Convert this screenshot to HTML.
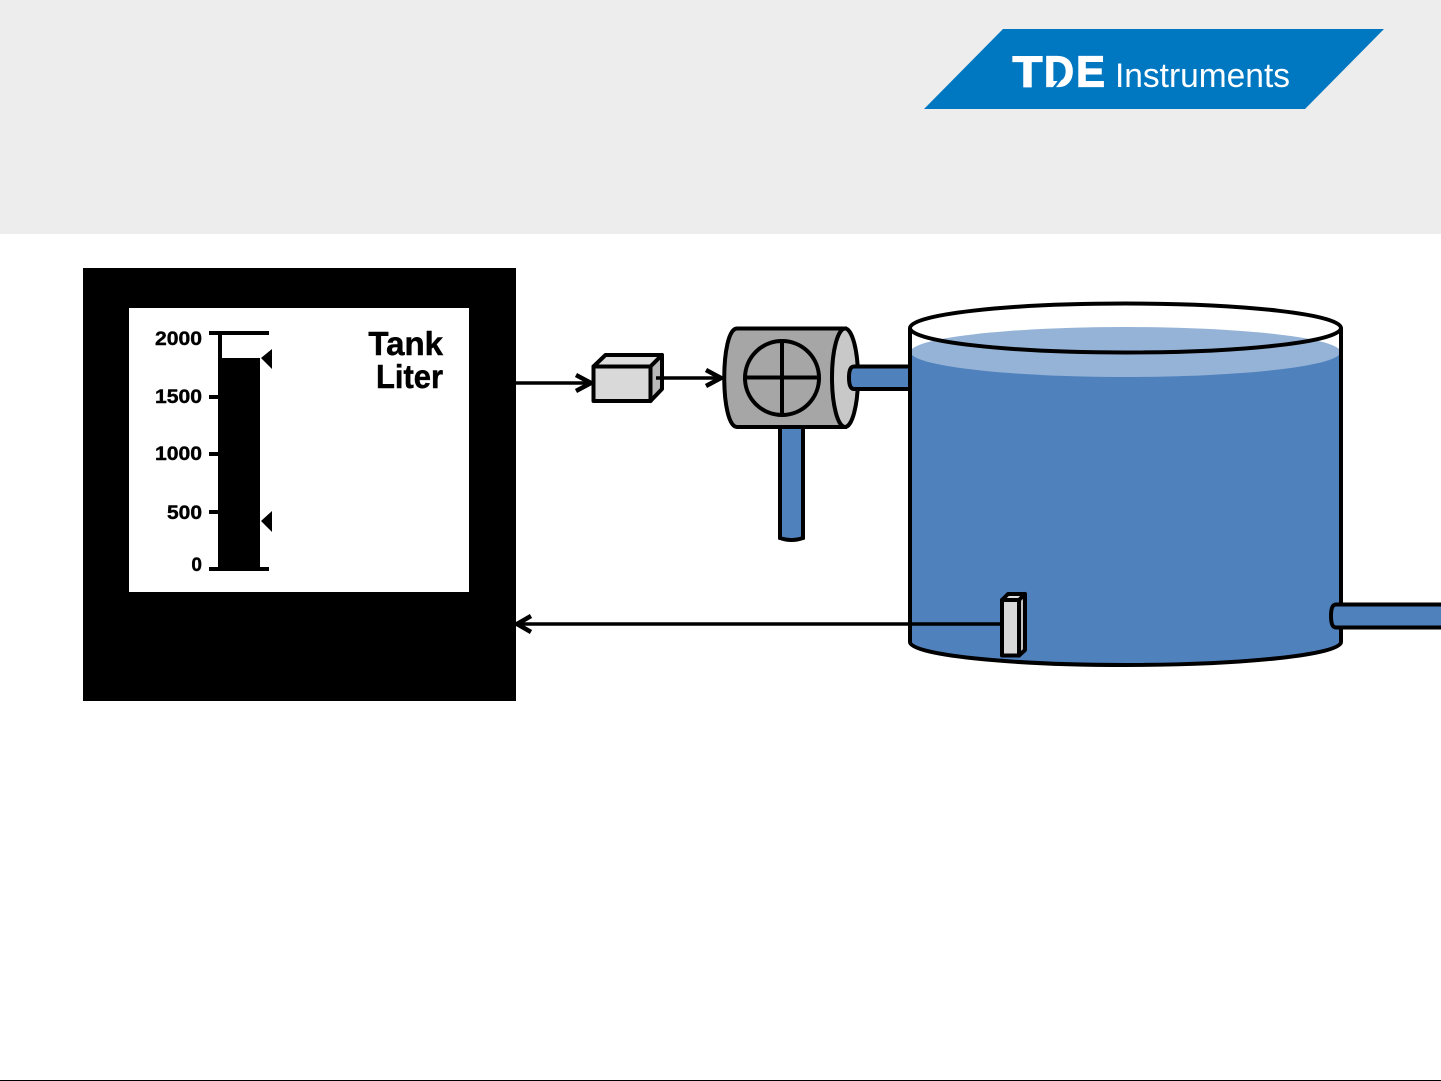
<!DOCTYPE html>
<html>
<head>
<meta charset="utf-8">
<style>
html,body{margin:0;padding:0;background:#fff}
svg{display:block}
text{font-family:"Liberation Sans",sans-serif}
</style>
</head>
<body>
<svg width="1441" height="1081" viewBox="0 0 1441 1081" xmlns="http://www.w3.org/2000/svg">
<rect width="1441" height="1081" fill="#fff"/>
<rect width="1441" height="234" fill="#ededed"/>
<polygon points="1003,29 1384,29 1305,109 924,109" fill="#0077c1"/>
<g font-size="44" font-weight="bold" fill="#fff" stroke="#fff" stroke-width="1.2">
<text x="1012.500" y="86.500" textLength="30" lengthAdjust="spacingAndGlyphs">T</text>
<text x="1044" y="86.500" textLength="30" lengthAdjust="spacingAndGlyphs">D</text>
<text x="1076" y="86.500" textLength="29" lengthAdjust="spacingAndGlyphs">E</text>
</g>
<rect x="1042" y="62" width="4" height="26" fill="#0077c1"/>
<path d="M1053 89L1063 76" stroke="#0077c1" stroke-width="2.500" fill="none"/>
<text x="1115" y="87" font-size="34" fill="#fff" textLength="175" lengthAdjust="spacingAndGlyphs">Instruments</text>

<rect x="83" y="268" width="433" height="433" fill="#000"/>
<rect x="129" y="308" width="340" height="284" fill="#fff"/>
<rect x="218" y="358" width="42" height="213" fill="#000"/>
<g stroke="#000" stroke-width="4" fill="none">
<path d="M209 333H269M220 333V358M209 397H220M209 454H220M209 512H220M209 569H269"/>
</g>
<polygon points="261,358 272,349 272,369" fill="#000"/>
<polygon points="261,521 272,511 272,532" fill="#000"/>
<g font-size="19" font-weight="bold" fill="#000" stroke="#000" stroke-width="0.4" text-anchor="end">
<text x="202" y="345" textLength="47" lengthAdjust="spacingAndGlyphs">2000</text>
<text x="202" y="403" textLength="47" lengthAdjust="spacingAndGlyphs">1500</text>
<text x="202" y="460" textLength="47" lengthAdjust="spacingAndGlyphs">1000</text>
<text x="202" y="519" textLength="35" lengthAdjust="spacingAndGlyphs">500</text>
<text x="202" y="571">0</text>
</g>
<text x="443" y="355" font-size="33" font-weight="bold" text-anchor="end" fill="#000" stroke="#000" stroke-width="0.5">Tank</text>
<text x="443" y="388" font-size="33" font-weight="bold" text-anchor="end" fill="#000" stroke="#000" stroke-width="0.5" textLength="67" lengthAdjust="spacingAndGlyphs">Liter</text>

<path d="M780 427V538Q791.500 542 803 538V427Z" fill="#4f81bd" stroke="#000" stroke-width="4"/>

<path d="M737 328.500H845V427H737C720 427 720 328.500 737 328.500Z" fill="#a6a6a6" stroke="#000" stroke-width="4"/>
<ellipse cx="845" cy="377.750" rx="13" ry="49.250" fill="#c8c8c8" stroke="#000" stroke-width="4"/>
<path d="M910 366.500H854Q849 366.500 849 377.500Q849 389 854 389H910Z" fill="#4f81bd" stroke="#000" stroke-width="4"/>
<circle cx="782" cy="378" r="37" fill="none" stroke="#000" stroke-width="4"/>
<path d="M745 377.500H819M782 341V415" stroke="#000" stroke-width="4" fill="none"/>

<path d="M910 352H1341V642C1341 655 1240 665 1125.500 665C1011 665 910 655 910 642Z" fill="#4f81bd"/>
<ellipse cx="1125.500" cy="352" rx="215" ry="25" fill="#95b3d7"/>
<path d="M910 328V642C910 655 1011 665 1125.500 665C1240 665 1341 655 1341 642V328" fill="none" stroke="#000" stroke-width="4"/>
<ellipse cx="1125.500" cy="328" rx="215.500" ry="24.500" fill="none" stroke="#000" stroke-width="4"/>

<path d="M1441 604.500H1336Q1331 604.500 1331 616Q1331 627.500 1336 627.500H1441" fill="#4f81bd" stroke="#000" stroke-width="4"/>

<g stroke="#000" stroke-width="4" fill="#d9d9d9" stroke-linejoin="round">
<rect x="593.500" y="366.500" width="57" height="34.500"/>
<polygon points="593.500,366.500 605.500,355 662,355 650.500,366.500" fill="#dedede"/>
<polygon points="650.500,366.500 662,355 662,389 650.500,401" fill="#b8b8b8"/>
</g>
<g stroke="#000" stroke-width="4" fill="#d9d9d9" stroke-linejoin="round">
<rect x="1002" y="600" width="17" height="55.500"/>
<polygon points="1002,600 1008,594 1025,594 1019,600" fill="#dedede"/>
<polygon points="1019,600 1025,594 1025,650 1019,655.500" fill="#c4c4c4"/>
</g>

<g stroke="#000" stroke-width="3.500" fill="none">
<path d="M516 383H590"/>
<path d="M656 378H720"/>
<path d="M1001 624H518"/>
</g>
<g stroke="#000" stroke-width="4.500" fill="none" stroke-linejoin="miter">
<path d="M576 375L591 383L576 391"/>
<path d="M706 370L721 378L706 386"/>
<path d="M531 616L517 624L531 632"/>
</g>

<rect x="0" y="1080" width="1441" height="1" fill="#000"/>
</svg>
</body>
</html>
